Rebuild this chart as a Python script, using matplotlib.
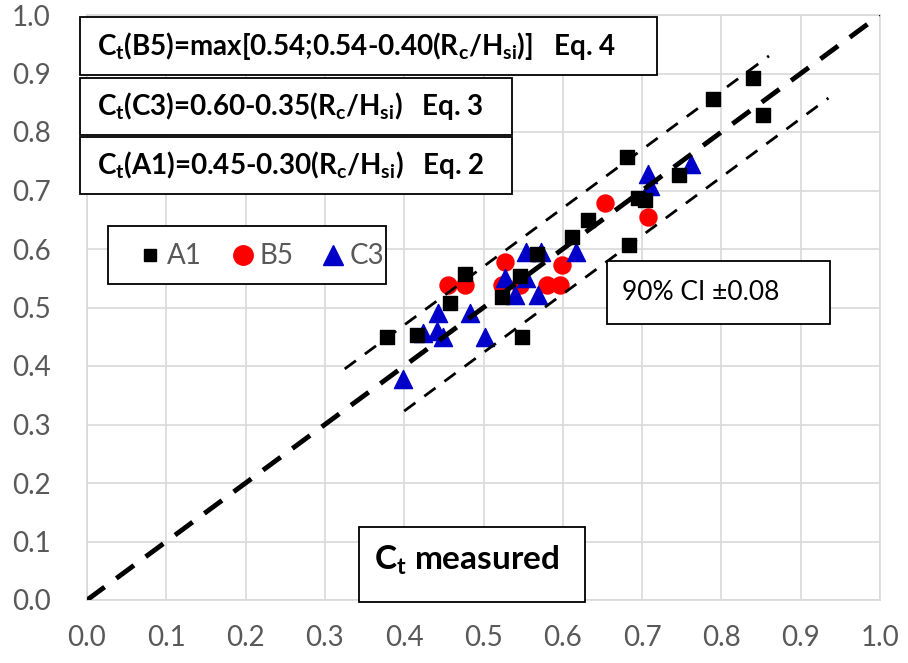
import matplotlib
matplotlib.use("Agg")
import matplotlib.pyplot as plt
from matplotlib.patches import Rectangle
from matplotlib.lines import Line2D

# data (x = predicted, y = measured)
a1_x = [0.378, 0.416, 0.458, 0.477, 0.523, 0.546, 0.548, 0.567, 0.611, 0.632,
        0.681, 0.683, 0.695, 0.704, 0.746, 0.790, 0.840, 0.853]
a1_y = [0.450, 0.453, 0.507, 0.558, 0.518, 0.553, 0.450, 0.592, 0.621, 0.650,
        0.758, 0.607, 0.687, 0.684, 0.726, 0.856, 0.892, 0.829]

b5_x = [0.455, 0.477, 0.523, 0.527, 0.546, 0.580, 0.596, 0.599, 0.653, 0.708]
b5_y = [0.538, 0.538, 0.538, 0.578, 0.538, 0.538, 0.538, 0.573, 0.679, 0.654]

c3_x = [0.399, 0.424, 0.441, 0.449, 0.443, 0.483, 0.502, 0.527, 0.540, 0.554,
        0.554, 0.569, 0.573, 0.617, 0.708, 0.710, 0.762]
c3_y = [0.377, 0.456, 0.459, 0.450, 0.490, 0.490, 0.450, 0.550, 0.521, 0.595,
        0.550, 0.521, 0.595, 0.595, 0.729, 0.707, 0.746]

diag = [0.0, 1.0]
ci_upper_x = [0.325, 0.86]
ci_upper_off = 0.07
ci_lower_x = [0.40, 0.935]
ci_lower_off = -0.077

ticks = [0.0, 0.1, 0.2, 0.3, 0.4, 0.5, 0.6, 0.7, 0.8, 0.9, 1.0]
series_names = ['A1', 'B5', 'C3']

W, H = 908, 663
plt.rcParams['font.family'] = ['Lato', 'DejaVu Sans']
plt.rcParams['mathtext.default'] = 'regular'

fig = plt.figure(figsize=(W / 100, H / 100), dpi=100)
ax = fig.add_axes([87 / W, 1 - 600 / H, (880 - 87) / W, (600 - 15) / H])

ax.scatter(b5_x, b5_y, s=150, marker='o', color='#FF0000', zorder=3)
ax.scatter(c3_x, c3_y, s=170, marker='^', color='#0000C8', zorder=4)
ax.scatter(a1_x, a1_y, s=88, marker='s', color='black', zorder=5)

ax.plot(diag, diag, color='black', lw=3.5, dashes=(4.5, 3), zorder=6)
ax.plot(ci_upper_x, [v + ci_upper_off for v in ci_upper_x], color='black',
        lw=2, dashes=(5, 4), zorder=6)
ax.plot(ci_lower_x, [v + ci_lower_off for v in ci_lower_x], color='black',
        lw=2, dashes=(5, 4), zorder=6)

ax.set_xlim(0, 1)
ax.set_ylim(0, 1)
ax.set_xticks(ticks)
ax.set_yticks(ticks)
ax.set_xticklabels([f"{t:.1f}" for t in ticks])
ax.set_yticklabels([f"{t:.1f}" for t in ticks])
ax.tick_params(length=0, labelsize=20, labelcolor='#595959')
ax.tick_params(axis='x', pad=18)
ax.tick_params(axis='y', pad=26)
ax.grid(True, color='#D9D9D9', lw=1.2)
ax.set_axisbelow(True)
for s in ax.spines.values():
    s.set_color('#D9D9D9')
    s.set_linewidth(1.2)


def fx(x):
    return x / W


def fy(y):
    return 1 - y / H


def box(x0, y0, x1, y1):
    """Rectangle in pixel coords of the image (top-left origin)."""
    r = Rectangle((fx(x0), fy(y1)), (x1 - x0) / W, (y1 - y0) / H,
                  transform=fig.transFigure, facecolor='white',
                  edgecolor='black', lw=1.3, zorder=10)
    fig.add_artist(r)


def label(x, y, s, **kw):
    fig.text(fx(x), fy(y), s, va='center', ha='left', zorder=11, **kw)


box(80, 17, 657, 75)
label(97, 46, r"C$_{t}$(B5)=max[0.54;0.54-0.40(R$_{c}$/H$_{si}$)]   Eq. 4",
      fontsize=20, fontweight='bold')
box(80, 78, 512, 135)
label(97, 106, r"C$_{t}$(C3)=0.60-0.35(R$_{c}$/H$_{si}$)   Eq. 3",
      fontsize=20, fontweight='bold')
box(80, 137, 512, 194)
label(97, 165, r"C$_{t}$(A1)=0.45-0.30(R$_{c}$/H$_{si}$)   Eq. 2",
      fontsize=20, fontweight='bold')

box(607, 261, 830, 324)
label(622, 292, "90% CI ±0.08", fontsize=19)

box(359, 527, 585, 602)
label(374, 560, r"C$_{t}$ measured", fontsize=24, fontweight='bold')

# legend, drawn by hand to match the spacing
box(108, 226, 386, 284)
legend_marks = [('s', 'black', 9), ('o', '#FF0000', 14), ('^', '#0000C8', 14)]
legend_x = [150, 243, 333]
for (m, c, ms), lx, name in zip(legend_marks, legend_x, series_names):
    fig.add_artist(Line2D([fx(lx)], [fy(255)], transform=fig.transFigure,
                          marker=m, color=c, markersize=ms, ls='', zorder=12))
    label(lx + 17, 256, name, fontsize=20, color='#595959')

fig.savefig("out.png", dpi=100)
